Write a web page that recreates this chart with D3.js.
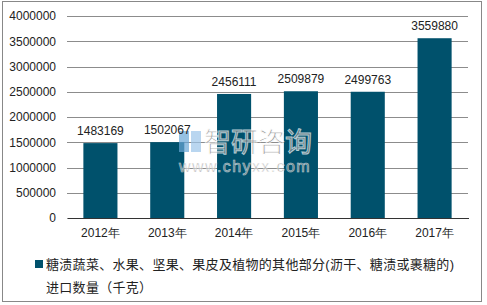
<!DOCTYPE html>
<html>
<head>
<meta charset="utf-8">
<script src="https://cdn.jsdelivr.net/npm/d3@7"></script>
<style>
  body { margin: 0; background: #fff; }
  svg { font-family: "Liberation Sans", Arial, "Noto Sans CJK SC", sans-serif; }
</style>
</head>
<body>
<svg width="487" height="305"></svg>
<script>
// data
const years = ["2012年", "2013年", "2014年", "2015年", "2016年", "2017年"];
const values = [1483169, 1502067, 2456111, 2509879, 2499763, 3559880];
const yTicks = [0, 500000, 1000000, 1500000, 2000000, 2500000, 3000000, 3500000, 4000000];
const legendLines = ["糖渍蔬菜、水果、坚果、果皮及植物的其他部分(沥干、糖渍或裹糖的)", "进口数量（千克）"];

const svg = d3.select("svg");
const barColor = "#00516c";

// outer frame
svg.append("rect")
    .attr("x", 2.5).attr("y", 1.5)
    .attr("width", 479).attr("height", 300)
    .attr("fill", "none")
    .attr("stroke", "#888")
    .attr("stroke-width", 1);

const plotL = 67, plotR = 468, plotT = 16, plotB = 218;

let yScale = d3.scaleLinear()
    .domain([0, 4000000])
    .range([plotB, plotT]);
let xScale = d3.scaleBand()
    .domain(years)
    .range([plotL, plotR])
    .paddingInner(0.49)
    .paddingOuter(0.245);

// gridlines + y labels
let yAxis = svg.append("g")
    .attr("transform", `translate(${plotL},0)`)
    .call(d3.axisLeft(yScale).tickValues(yTicks).tickSize(-(plotR - plotL)).tickPadding(11).tickFormat(d3.format("d")));
yAxis.select(".domain").remove();
yAxis.selectAll(".tick line").attr("stroke", "#8c8c8c").attr("shape-rendering", "crispEdges");
yAxis.selectAll(".tick text").attr("font-size", 12).attr("fill", "#222");

// bars
svg.selectAll("rect.bar")
    .data(values)
    .enter()
    .append("rect")
    .attr("class", "bar")
    .attr("x", (d, i) => xScale(years[i]))
    .attr("y", d => yScale(d))
    .attr("width", xScale.bandwidth())
    .attr("height", d => plotB - yScale(d))
    .attr("fill", barColor);

// x axis
let xAxis = svg.append("g")
    .attr("transform", `translate(0,${plotB})`)
    .call(d3.axisBottom(xScale).tickSize(0).tickPadding(10));
xAxis.select(".domain").attr("stroke", "#333").attr("shape-rendering", "crispEdges");
xAxis.selectAll(".tick text").attr("font-size", 12).attr("fill", "#222");

// watermark
const wm = svg.append("g").attr("opacity", 0.7);
wm.append("rect").attr("x", 179).attr("y", 131).attr("width", 10).attr("height", 21).attr("fill", "#6aa7d8");
wm.append("rect").attr("x", 191).attr("y", 131).attr("width", 10).attr("height", 21).attr("fill", "#9cc6ea");
wm.append("text")
    .attr("x", 204).attr("y", 152)
    .attr("font-size", 27)
    .attr("font-family", "Noto Sans CJK SC")
    .attr("fill", "#7a7a7a")
    .attr("stroke", "#fff").attr("stroke-width", 1)
    .text("智研咨询");
wm.append("text")
    .attr("x", 179).attr("y", 172)
    .attr("font-size", 16)
    .attr("letter-spacing", 1.4)
    .attr("fill", "#7a7a7a")
    .attr("stroke", "#fff").attr("stroke-width", 0.6)
    .text("www.chyxx.com");

// value labels
svg.selectAll("text.val")
    .data(values)
    .enter()
    .append("text")
    .attr("class", "val")
    .attr("x", (d, i) => xScale(years[i]) + xScale.bandwidth() / 2)
    .attr("y", d => yScale(d) - 8)
    .attr("text-anchor", "middle")
    .attr("font-size", 12)
    .attr("fill", "#222")
    .text(d => d);

// legend
svg.append("rect")
    .attr("x", 35).attr("y", 260)
    .attr("width", 8).attr("height", 8)
    .attr("fill", barColor);
const lg = svg.append("text")
    .attr("font-size", 13)
    .attr("letter-spacing", 0.3)
    .attr("fill", "#222");
lg.selectAll("tspan")
    .data(legendLines)
    .enter()
    .append("tspan")
    .attr("x", 46)
    .attr("y", (d, i) => 269 + i * 23)
    .text(d => d);
</script>
</body>
</html>
